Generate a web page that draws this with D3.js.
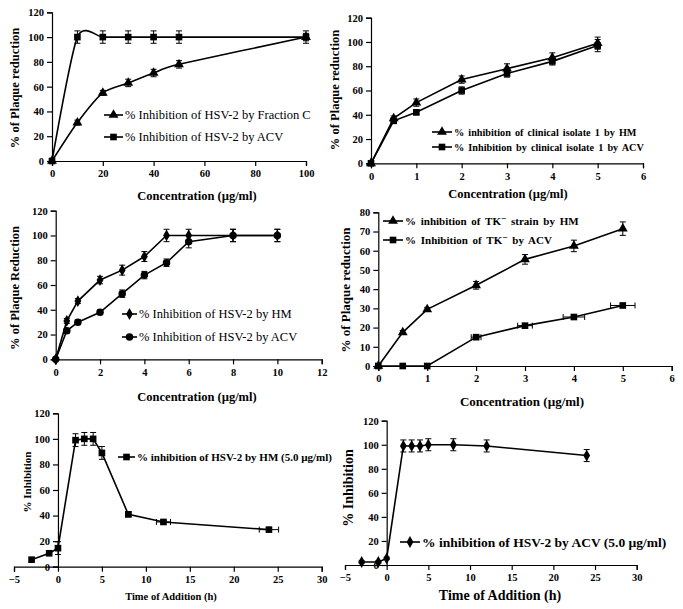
<!DOCTYPE html>
<html><head><meta charset="utf-8">
<script src="https://cdn.jsdelivr.net/npm/d3@7"></script>
<style>
body{margin:0;background:#fff;}
svg{display:block;}
svg text{font-family:"Liberation Serif","Times New Roman",serif;}
.tick text{font-weight:bold;font-size:10.5px;fill:#000;}
.domain,.tick line{stroke:#000;stroke-width:1.2px;}
</style></head><body>
<svg id="c" width="683" height="609" font-family="Liberation Serif"></svg>
<script>
// ---------- DATA ----------
// Panel A: Fraction C vs ACV
const aX = [0, 10, 20, 30, 40, 50, 100];
const aFractionC = [0, 31, 55, 63, 71, 78, 100];
const aFractionCErr = [0, 2, 2, 3, 3, 3, 3];
const aACV = [0, 100, 100, 100, 100, 100, 100];
const aACVErr = [0, 5, 5, 5, 5, 5, 5];
const aXTicks = [0, 20, 40, 60, 80, 100];
const aYTicks = [0, 20, 40, 60, 80, 100, 120];

// Panel B: clinical isolate 1
const bX = [0, 0.5, 1, 2, 3, 4, 5];
const bHM = [0, 37, 50, 69, 78, 87, 99];
const bHMErr = [0, 2, 3, 3, 4, 4, 5];
const bACV = [0, 35, 42, 60, 74, 84, 97];
const bACVErr = [0, 2, 2, 3, 3, 3, 5];
const bXTicks = [0, 1, 2, 3, 4, 5, 6];
const bYTicks = [0, 20, 40, 60, 80, 100, 120];

// Panel C: HSV-2 HM vs ACV
const cX = [0, 0.5, 1, 2, 3, 4, 5, 6, 8, 10];
const cHM = [0, 31, 47, 64, 72, 83, 100, 100, 100, 100];
const cHMErr = [0, 2, 2, 3, 4, 4, 5, 5, 5, 5];
const cACV = [0, 23, 30, 38, 53, 68, 78, 95, 100, 100];
const cACVErr = [0, 2, 2, 2, 3, 3, 3, 5, 5, 5];
const cXTicks = [0, 2, 4, 6, 8, 10, 12];
const cYTicks = [0, 20, 40, 60, 80, 100, 120];

// Panel D: TK- strain
const dX = [0, 0.5, 1, 2, 3, 4, 5];
const dHM = [0, 17.5, 29.5, 42, 55.5, 62.5, 71.5];
const dHMErr = [0, 1, 1, 2, 2.5, 3, 3.5];
const dACV = [0, 0, 0, 15, 21, 25.5, 31.5];
const dACVErr = [0, 0, 0, 1, 1, 1, 1];
const dACVXErr = [0, 0, 0, 0.1, 0.15, 0.22, 0.25];
const dXTicks = [0, 1, 2, 3, 4, 5, 6];
const dYTicks = [0, 10, 20, 30, 40, 50, 60, 70, 80];

// Panel E: time of addition, HM
const eX = [-3, -1, 0, 2, 3, 4, 5, 8, 12, 24];
const eHM = [5.5, 10.5, 14.5, 99, 100, 100, 89, 41, 35, 29];
const eHMErr = [0, 0, 5, 5, 5, 5, 5, 2, 1, 1];
const eHMXErr = [0, 0, 0, 0, 0, 0, 0, 0.3, 0.8, 1.1];
const eXTicks = [-5, 0, 5, 10, 15, 20, 25, 30];
const eYTicks = [0, 20, 40, 60, 80, 100, 120];

// Panel F: time of addition, ACV
const fX = [-3, -1, 0, 2, 3, 4, 5, 8, 12, 24];
const fACV = [2.5, 2.5, 5.5, 99, 99, 99, 100, 100, 99, 91];
const fACVErr = [1, 1, 1, 5, 5, 5, 5, 5, 5, 5];
const fXTicks = [-5, 0, 5, 10, 15, 20, 25, 30];
const fYTicks = [0, 20, 40, 60, 80, 100, 120];

// ---------- DRAWING ----------
const FONT = "'Liberation Serif', 'Times New Roman', serif";
const svg = d3.select("#c");
svg.append("rect").attr("width", 683).attr("height", 609).attr("fill", "#fff");

function symbolPath(kind) {
  if (kind === "square") return d3.symbol(d3.symbolSquare, 44)();
  if (kind === "triangle") return d3.symbol(d3.symbolTriangle, 42)();
  if (kind === "diamond") return d3.symbol(d3.symbolDiamond, 40)();
  if (kind === "circle") return d3.symbol(d3.symbolCircle, 44)();
}

function panel(cfg) {
  const g = svg.append("g").attr("font-family", FONT);
  const x = d3.scaleLinear().domain(cfg.xDomain).range(cfg.xRange);
  const y = d3.scaleLinear().domain(cfg.yDomain).range(cfg.yRange);
  // axes
  const ax = g.append("g").attr("transform", `translate(0,${y(0)})`)
    .call(d3.axisBottom(x).tickValues(cfg.xTicks).tickSize(5).tickPadding(4).tickFormat(d3.format("d")));
  const ay = g.append("g").attr("transform", `translate(${x(0)},0)`)
    .call(d3.axisLeft(y).tickValues(cfg.yTicks).tickSize(5).tickPadding(3).tickFormat(d3.format("d")));
  [ax, ay].forEach(a => {
    a.attr("font-family", FONT).attr("font-size", 10.5);
    a.selectAll(".tick text").attr("font-family", FONT).attr("font-weight", "bold");
  });
  // axis titles
  g.append("text").attr("x", cfg.xLabelPos[0]).attr("y", cfg.xLabelPos[1])
    .attr("text-anchor", "middle").attr("font-weight", "bold").attr("font-family", FONT)
    .attr("font-size", cfg.xLabelSize).text(cfg.xLabel);
  g.append("text").attr("transform", `translate(${cfg.yLabelPos[0]},${cfg.yLabelPos[1]}) rotate(-90)`)
    .attr("text-anchor", "middle").attr("dy", "0.35em").attr("font-weight", "bold").attr("font-family", FONT)
    .attr("font-size", cfg.yLabelSize).text(cfg.yLabel);
  // series
  cfg.series.forEach(s => {
    const pts = s.xs.map((v, i) => ({x: v, y: s.ys[i], e: s.err ? s.err[i] : 0, xe: s.xerr ? s.xerr[i] : 0}));
    const line = d3.line().x(d => x(d.x)).y(d => y(d.y)).curve(cfg.curve || d3.curveLinear);
    g.append("path").attr("d", line(pts)).attr("fill", "none").attr("stroke", "#000").attr("stroke-width", 1.6);
    const eb = g.append("g").attr("stroke", "#000").attr("stroke-width", 1);
    pts.forEach(d => {
      if (d.e > 0) {
        eb.append("line").attr("x1", x(d.x)).attr("x2", x(d.x)).attr("y1", y(d.y - d.e)).attr("y2", y(d.y + d.e));
        [d.y - d.e, d.y + d.e].forEach(v => eb.append("line").attr("x1", x(d.x) - 3).attr("x2", x(d.x) + 3).attr("y1", y(v)).attr("y2", y(v)));
      }
      if (d.xe > 0) {
        eb.append("line").attr("x1", x(d.x - d.xe)).attr("x2", x(d.x + d.xe)).attr("y1", y(d.y)).attr("y2", y(d.y));
        [d.x - d.xe, d.x + d.xe].forEach(v => eb.append("line").attr("x1", x(v)).attr("x2", x(v)).attr("y1", y(d.y) - 3).attr("y2", y(d.y) + 3));
      }
    });
    g.append("g").selectAll("path").data(pts).join("path")
      .attr("d", symbolPath(s.marker)).attr("transform", d => `translate(${x(d.x)},${y(d.y)})`).attr("fill", "#000");
  });
  // legend
  const L = cfg.legend;
  cfg.series.forEach((s, i) => {
    const ly = L.ys[i];
    g.append("line").attr("x1", L.x0).attr("x2", L.x1).attr("y1", ly).attr("y2", ly).attr("stroke", "#000").attr("stroke-width", 1.6);
    g.append("path").attr("d", symbolPath(s.marker)).attr("transform", `translate(${(L.x0 + L.x1) / 2},${ly})`).attr("fill", "#000");
    const t = g.append("text").attr("x", L.x1 + 2).attr("y", ly).attr("dy", "0.35em").attr("font-family", FONT)
      .attr("font-size", L.size).attr("font-weight", L.bold ? "bold" : "normal")
      .attr("word-spacing", L.ws || 0);
    let raised = false;
    s.label.forEach(part => {
      if (typeof part === "string") {
        const ts = t.append("tspan").text(part);
        if (raised) { ts.attr("dy", "0.35em"); raised = false; }
      } else {
        t.append("tspan").attr("dy", "-0.35em").attr("font-size", L.size * 0.85).text(part.sup);
        raised = true;
      }
    });
  });
}

const conc = "Concentration (\u00b5g/ml)";

panel({
  xDomain: [0, 100], xRange: [52, 306], yDomain: [0, 120], yRange: [161, 12.3],
  xTicks: aXTicks, yTicks: aYTicks,
  xLabel: conc, xLabelPos: [197, 200], xLabelSize: 12.5,
  yLabel: "% of Plaque reduction", yLabelPos: [15, 88], yLabelSize: 12.5,
  curve: d3.curveCardinal.tension(0.3),
  series: [
    {xs: aX, ys: aFractionC, err: aFractionCErr, marker: "triangle", label: ["% Inhibition of HSV-2 by Fraction C"]},
    {xs: aX, ys: aACV, err: aACVErr, marker: "square", label: ["% Inhibition of HSV-2 by ACV"]}
  ],
  legend: {x0: 104, x1: 123, ys: [115, 137], size: 12.5, bold: false}
});

panel({
  xDomain: [0, 6], xRange: [371, 643], yDomain: [0, 120], yRange: [163.3, 17.7],
  xTicks: bXTicks, yTicks: bYTicks,
  xLabel: conc, xLabelPos: [508, 198], xLabelSize: 12.5,
  yLabel: "% of Plaque reduction", yLabelPos: [335, 90], yLabelSize: 12.5,
  series: [
    {xs: bX, ys: bHM, err: bHMErr, marker: "triangle", label: ["% inhibition of clinical isolate 1 by HM"]},
    {xs: bX, ys: bACV, err: bACVErr, marker: "square", label: ["% Inhibition by clinical isolate 1 by ACV"]}
  ],
  legend: {x0: 432, x1: 452, ys: [132, 147], size: 10.2, bold: true, ws: 1.6}
});

panel({
  xDomain: [0, 12], xRange: [55.7, 321.7], yDomain: [0, 120], yRange: [359.3, 210.7],
  xTicks: cXTicks, yTicks: cYTicks,
  xLabel: conc, xLabelPos: [197, 401], xLabelSize: 12.5,
  yLabel: "% of Plaque Reduction", yLabelPos: [15, 288], yLabelSize: 12.5,
  series: [
    {xs: cX, ys: cHM, err: cHMErr, marker: "diamond", label: ["% Inhibition of HSV-2 by HM"]},
    {xs: cX, ys: cACV, err: cACVErr, marker: "circle", label: ["% Inhibition of HSV-2 by ACV"]}
  ],
  legend: {x0: 122, x1: 137, ys: [314, 337], size: 12.5, bold: false}
});

panel({
  xDomain: [0, 6], xRange: [378.3, 671.7], yDomain: [0, 80], yRange: [366, 212.3],
  xTicks: dXTicks, yTicks: dYTicks,
  xLabel: conc, xLabelPos: [522, 406], xLabelSize: 13,
  yLabel: "% of Plaque reduction", yLabelPos: [345, 290], yLabelSize: 13,
  series: [
    {xs: dX, ys: dHM, err: dHMErr, marker: "triangle", label: ["% inhibition of TK", {sup: "\u2212"}, " strain by HM"]},
    {xs: dX, ys: dACV, err: dACVErr, xerr: dACVXErr, marker: "square", label: ["% Inhibition of TK", {sup: "\u2212"}, " by ACV"]}
  ],
  legend: {x0: 383, x1: 403, ys: [221, 240], size: 11, bold: true, ws: 2}
});

panel({
  xDomain: [-5, 30], xRange: [14, 321.7], yDomain: [0, 120], yRange: [566.7, 413.3],
  xTicks: eXTicks, yTicks: eYTicks,
  xLabel: "Time of Addition (h)", xLabelPos: [171, 600], xLabelSize: 10.5,
  yLabel: "% Inhibition", yLabelPos: [27, 482], yLabelSize: 11,
  series: [
    {xs: eX, ys: eHM, err: eHMErr, xerr: eHMXErr, marker: "square", label: ["% inhibition of HSV-2 by HM (5.0 \u00b5g/ml)"]}
  ],
  legend: {x0: 118, x1: 135, ys: [457], size: 11, bold: true}
});

panel({
  xDomain: [-5, 30], xRange: [345, 636.7], yDomain: [0, 120], yRange: [565, 420.7],
  xTicks: fXTicks, yTicks: fYTicks,
  xLabel: "Time of Addition (h)", xLabelPos: [500, 600], xLabelSize: 14,
  yLabel: "% Inhibition", yLabelPos: [348, 488], yLabelSize: 14,
  series: [
    {xs: fX, ys: fACV, err: fACVErr, marker: "diamond", label: ["% inhibition of HSV-2 by ACV (5.0 \u00b5g/ml)"]}
  ],
  legend: {x0: 400, x1: 420, ys: [542], size: 13.5, bold: true}
});
</script>
</body></html>
